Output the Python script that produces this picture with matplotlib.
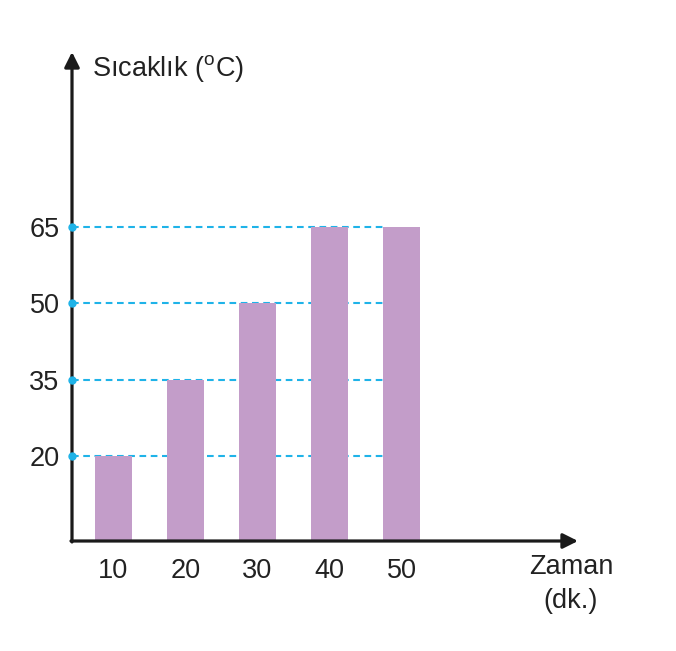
import matplotlib
matplotlib.use("Agg")
import matplotlib.pyplot as plt

times = [10, 20, 30, 40, 50]
temps = [20, 35, 50, 65, 65]
yticks = [20, 35, 50, 65]

plt.rcParams['font.family'] = ['Liberation Sans', 'DejaVu Sans']

fig = plt.figure(figsize=(6.76, 6.51), dpi=100)
ax = fig.add_axes([72/676, (651-541)/651, (578-72)/676, (541-52)/651])

xmin, xmax = 4.24, 74.5
ymin, ymax = 3.3, 99.4
ax.set_xlim(xmin, xmax)
ax.set_ylim(ymin, ymax)

bar_color = '#c39dc9'
line_color = '#1fb3e8'
text_color = '#222222'
fs = 19.5

# dashed guide lines
for v in yticks:
    ax.plot([xmin, 48], [v, v], color=line_color, lw=1.5, ls=(0, (3.2, 2.2)), zorder=1, clip_on=False)
    ax.plot([xmin], [v], 'o', color=line_color, ms=5, zorder=4, clip_on=False)

ax.bar(times, temps, width=5.1, color=bar_color, zorder=2)

for s in ax.spines.values():
    s.set_visible(False)

ax.set_xticks(times)
ax.set_xticklabels([str(t) for t in times])
ax.set_yticks(yticks)
ax.set_yticklabels([str(v) for v in yticks])
ax.tick_params(axis='both', length=0, labelsize=fs, colors=text_color)
ax.tick_params(axis='x', pad=12)
ax.tick_params(axis='y', pad=9)

arrow = dict(arrowstyle='-|>,head_length=0.9,head_width=0.45', color='#1a1a1a', lw=2.3, shrinkA=0, shrinkB=0)
ax.annotate('', xy=(1, 0), xytext=(-0.002, 0), xycoords='axes fraction', arrowprops=arrow, annotation_clip=False)
ax.annotate('', xy=(0, 1), xytext=(0, -0.002), xycoords='axes fraction', arrowprops=arrow, annotation_clip=False)

fig.text(92/676, 1-68/651, 'Sıcaklık ($^{\\mathregular{o}}$C)', fontsize=fs, color=text_color, va='center', ha='left')
fig.text(571/676, 1-567/651, 'Zaman', fontsize=fs, color=text_color, va='center', ha='center')
fig.text(571/676, 1-601/651, '(dk.)', fontsize=fs, color=text_color, va='center', ha='center')

fig.savefig('out.png', dpi=100, facecolor='white')
